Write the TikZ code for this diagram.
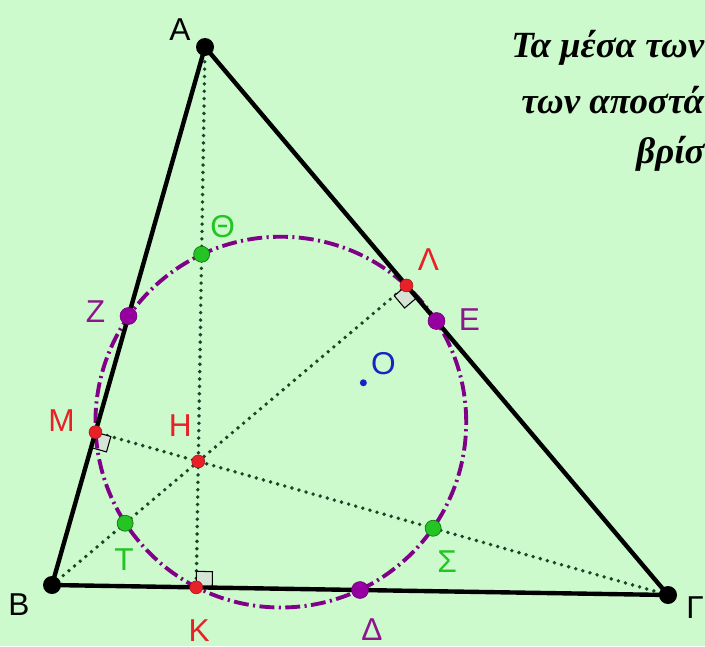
\documentclass[tikz,border=0pt]{standalone}
\usepackage{fontspec}
\setmainfont{Liberation Sans}
\newfontfamily\grtext{Liberation Serif}
\usetikzlibrary{calc}
\definecolor{bggreen}{RGB}{204,250,204}
\definecolor{ptred}{RGB}{232,32,40}
\definecolor{ptpurple}{RGB}{140,22,140}
\definecolor{dotpurple}{RGB}{150,0,160}
\definecolor{ptgreen}{RGB}{36,196,36}
\definecolor{ptblue}{RGB}{24,36,196}
\definecolor{altgreen}{RGB}{25,70,40}
\def\rtsq#1#2#3{\draw[rtbox] (#1) -- ($(#1)!0.32cm!(#2)$) -- ($(#1)!0.32cm!(#2)+(#1)!0.32cm!(#3)-(#1)$) -- ($(#1)!0.32cm!(#3)$) -- cycle;}

\begin{document}
\begin{tikzpicture}[x=0.02cm,y=-0.02cm,font=\fontsize{18}{20}\selectfont,
    side/.style={line width=2.5pt,line join=round},
    alt/.style={altgreen,line width=2.2pt,line cap=round,dash pattern=on 0pt off 4.2pt},
    npc/.style={dotpurple!85!black,line width=2.2pt,dash pattern=on 8.5pt off 2.5pt on 1.2pt off 2.5pt},
    rtbox/.style={draw=black,line width=0.6pt,fill={rgb,255:red,214;green,228;blue,214}},
    pt/.style={circle,inner sep=0pt,minimum size=#1},
    vtx/.style={pt=0.36cm,fill=black},
    foot/.style={pt=0.26cm,fill=ptred,draw=ptred!70!black,line width=0.3pt},
    mid/.style={pt=0.34cm,fill=dotpurple,draw=dotpurple!70!black,line width=0.3pt},
    half/.style={pt=0.32cm,fill=ptgreen,draw=ptgreen!60!black,line width=0.4pt},
    grline/.style={anchor=base west,inner sep=0pt,font=\grtext\bfseries\itshape\fontsize{21}{25}\selectfont}]

    \fill[bggreen] (0,0) rectangle (705,646);
    \useasboundingbox (0,0) rectangle (705,646);

    \coordinate (A) at (205,47);
    \coordinate (B) at (52,585);
    \coordinate (G) at (668,595);

    % feet of the altitudes, orthocentre
    \coordinate (K) at ($(B)!(A)!(G)$);
    \coordinate (L) at ($(A)!(B)!(G)$);
    \coordinate (M) at ($(A)!(G)!(B)$);
    \coordinate (H) at (intersection of A--K and B--L);

    \coordinate (Z) at ($(A)!0.5!(B)$);
    \coordinate (E) at ($(A)!0.5!(G)$);
    \coordinate (D) at ($(B)!0.5!(G)$);
    \coordinate (Th) at ($(A)!0.5!(H)$);
    \coordinate (T) at ($(B)!0.5!(H)$);
    \coordinate (S) at ($(G)!0.5!(H)$);
    \coordinate (O) at ($0.5*(A)+0.5*(B)+0.5*(G)-0.5*(H)$);
    \coordinate (N) at ($(O)!0.5!(H)$);

    \draw[alt] (A) -- (K);
    \draw[alt] (B) -- (L);
    \draw[alt] (G) -- (M);

    \rtsq{K}{A}{G}
    \rtsq{L}{B}{G}
    \rtsq{M}{G}{B}

    \draw[npc] let \p1=($(D)-(N)$), \n1={veclen(\x1,\y1)} in (N) circle (\n1);

    \draw[side] (A) -- (B) -- (G) -- cycle;

    \node[vtx] (dA) at (A) {};
    \node[vtx] (dB) at (B) {};
    \node[vtx] (dG) at (G) {};
    \node[mid] (dZ) at (Z) {};
    \node[mid] (dE) at (E) {};
    \node[mid] (dD) at (D) {};
    \node[half] (dTh) at (Th) {};
    \node[half] (dT) at (T) {};
    \node[half] (dS) at (S) {};
    \node[foot] (dK) at (K) {};
    \node[foot] (dL) at (L) {};
    \node[foot] (dM) at (M) {};
    \node[foot] (dH) at (H) {};
    \node[pt=0.14cm,fill=ptblue] (dO) at (O) {};

    \node (lA) at ($(A)+(-25,-17)$) {A};
    \node (lB) at ($(B)+(-33,20)$) {B};
    \node[anchor=west,inner sep=0pt] (lG) at ($(G)+(18,13)$) {Γ};
    \node[ptred] (lK) at ($(K)+(3,43)$) {K};
    \node[ptred] (lL) at ($(L)+(22,-26)$) {Λ};
    \node[ptred] (lM) at ($(M)+(-34,-12)$) {M};
    \node[ptred] (lH) at ($(H)+(-18,-36)$) {H};
    \node[ptpurple] (lZ) at ($(Z)+(-33,-4)$) {Z};
    \node[ptpurple] (lE) at ($(E)+(33,-1)$) {E};
    \node[ptpurple] (lD) at ($(D)+(12,40)$) {Δ};
    \node[ptgreen] (lTh) at ($(Th)+(21,-28)$) {Θ};
    \node[ptgreen] (lT) at ($(T)+(-1,36)$) {T};
    \node[ptgreen] (lS) at ($(S)+(14,33)$) {Σ};
    \node[ptblue] (lO) at ($(O)+(20,-19)$) {O};

    \node[grline] (t1) at (511,57) {Τα μέσα των};
    \node[grline] (t2) at (521,113) {των αποστά};
    \node[grline] (t3) at (636,163) {βρίσ};
\end{tikzpicture}
\end{document}
